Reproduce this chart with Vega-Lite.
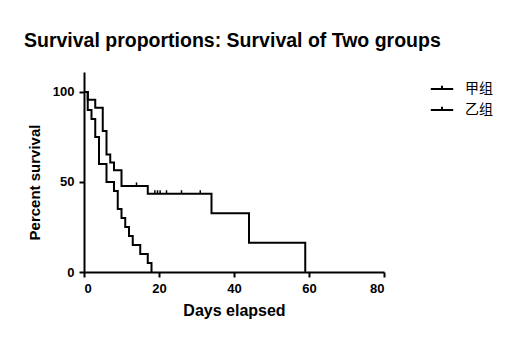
{
  "$schema": "https://vega.github.io/schema/vega-lite/v6.json",
  "width": 300,
  "height": 200,
  "autosize": "none",
  "padding": {"left": 84, "top": 72, "right": 129, "bottom": 73},
  "background": "white",
  "title": {
    "text": "Survival proportions: Survival of Two groups",
    "anchor": "start",
    "frame": "group",
    "dx": -60,
    "offset": 21,
    "font": "Liberation Sans",
    "fontSize": 19.5,
    "fontWeight": "bold",
    "color": "black"
  },
  "datasets": {
    "steps": [
      {"group": "甲组", "day": 0, "pct": 100},
      {"group": "甲组", "day": 1, "pct": 95.65},
      {"group": "甲组", "day": 3, "pct": 91.3},
      {"group": "甲组", "day": 5, "pct": 78.26},
      {"group": "甲组", "day": 6, "pct": 65.22},
      {"group": "甲组", "day": 7, "pct": 60.87},
      {"group": "甲组", "day": 8, "pct": 56.52},
      {"group": "甲组", "day": 10, "pct": 47.83},
      {"group": "甲组", "day": 17, "pct": 43.48},
      {"group": "甲组", "day": 34, "pct": 32.61},
      {"group": "甲组", "day": 44, "pct": 16.3},
      {"group": "甲组", "day": 59, "pct": 0},
      {"group": "乙组", "day": 0, "pct": 100},
      {"group": "乙组", "day": 1, "pct": 90},
      {"group": "乙组", "day": 2, "pct": 85},
      {"group": "乙组", "day": 3, "pct": 75},
      {"group": "乙组", "day": 4, "pct": 60},
      {"group": "乙组", "day": 6, "pct": 50},
      {"group": "乙组", "day": 8, "pct": 45},
      {"group": "乙组", "day": 9, "pct": 35},
      {"group": "乙组", "day": 10, "pct": 30},
      {"group": "乙组", "day": 11, "pct": 25},
      {"group": "乙组", "day": 12, "pct": 20},
      {"group": "乙组", "day": 13, "pct": 15},
      {"group": "乙组", "day": 15, "pct": 10},
      {"group": "乙组", "day": 17, "pct": 5},
      {"group": "乙组", "day": 18, "pct": 0}
    ],
    "censor": [
      {"group": "甲组", "day": 14, "pct": 47.83},
      {"group": "甲组", "day": 18.9, "pct": 43.48},
      {"group": "甲组", "day": 19.6, "pct": 43.48},
      {"group": "甲组", "day": 20.3, "pct": 43.48},
      {"group": "甲组", "day": 22, "pct": 43.48},
      {"group": "甲组", "day": 26, "pct": 43.48},
      {"group": "甲组", "day": 31, "pct": 43.48}
    ]
  },
  "layer": [
    {
      "data": {"name": "steps"},
      "mark": {"type": "line", "interpolate": "step-after", "strokeWidth": 2, "clip": false},
      "encoding": {
        "x": {
          "field": "day", "type": "quantitative",
          "scale": {"domain": [0, 80], "nice": false, "zero": false},
          "axis": {"values": [0, 20, 40, 60, 80], "title": "Days elapsed", "titleFontSize": 16, "titlePadding": 7}
        },
        "y": {
          "field": "pct", "type": "quantitative",
          "scale": {"domain": [0, 111.1], "nice": false},
          "axis": {"values": [0, 50, 100], "title": "Percent survival", "titleFontSize": 15, "titlePadding": 10, "titleY": 110}
        },
        "color": {
          "field": "group", "type": "nominal",
          "scale": {"domain": ["甲组", "乙组"], "range": ["black", "black"]},
          "legend": {
            "title": null,
            "orient": "none",
            "legendX": 350,
            "legendY": 9,
            "symbolType": "M-1.6,0H1.6M0,0V-0.45",
            "symbolSize": 196,
            "symbolStrokeWidth": 2,
            "symbolStrokeColor": "black",
            "symbolFillColor": "transparent",
            "labelFont": "Noto Sans CJK SC",
            "labelFontSize": 14,
            "labelColor": "black",
            "labelOffset": 15,
            "rowPadding": 6,
            "padding": 0
          }
        }
      }
    },
    {
      "data": {"name": "censor"},
      "mark": {"type": "point", "shape": "M0,0V-1", "size": 49, "strokeWidth": 1.5, "filled": false, "color": "black", "opacity": 1},
      "encoding": {
        "x": {"field": "day", "type": "quantitative"},
        "y": {"field": "pct", "type": "quantitative"}
      }
    }
  ],
  "config": {
    "view": {"stroke": null},
    "axis": {
      "grid": false,
      "domainColor": "black",
      "domainWidth": 2,
      "tickColor": "black",
      "tickWidth": 2,
      "tickSize": 5,
      "labelFont": "Liberation Sans",
      "labelFontWeight": "bold",
      "labelFontSize": 13,
      "labelColor": "black",
      "labelPadding": 5,
      "titleFont": "Liberation Sans",
      "titleFontWeight": "bold",
      "titleColor": "black"
    }
  }
}
